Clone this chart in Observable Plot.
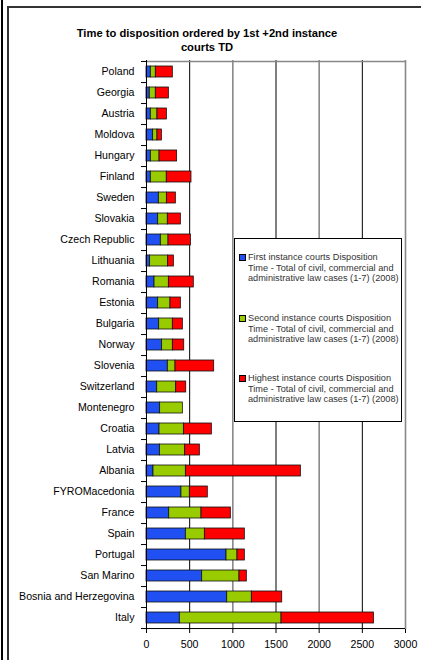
<!DOCTYPE html>
<html>
<head>
<meta charset="utf-8">
<script src="https://cdn.jsdelivr.net/npm/d3@7"></script>
<script src="https://cdn.jsdelivr.net/npm/@observablehq/plot@0.6"></script>
<style>
  html, body { margin: 0; padding: 0; background: #fff; }
  #wrap { position: relative; width: 421px; height: 660px; overflow: hidden; font-family: "Liberation Sans", Arial, sans-serif; }
  #chart { position: absolute; left: 0; top: 0; }
  #title { position: absolute; left: 40px; width: 334px; top: 26px; text-align: center; font-weight: bold; font-size: 11.2px; line-height: 14px; color: #000; }
  #outerline { position: absolute; left: 1px; top: 0; width: 2px; height: 660px; background: #000; }
  #frame { position: absolute; left: 7px; top: 6px; width: 430px; height: 670px; border-left: 2px solid #333; border-top: 2px solid #333; }
  #legend { position: absolute; left: 234px; top: 238px; width: 166px; height: 182px; background: #fff; border: 1px solid #000; overflow: hidden; font-size: 9.2px; color: #333; }
  .entry { position: absolute; left: 13px; white-space: nowrap; line-height: 10.6px; }
  .sw { position: absolute; left: -9px; top: 2px; width: 5px; height: 5px; border: 0.8px solid #000; }
</style>
</head>
<body>
<div id="wrap">
  <div id="outerline"></div>
  <div id="frame"></div>
  <div id="chart"></div>
  <div id="title">Time to disposition ordered by 1st +2nd instance<br>courts TD</div>
  <div id="legend"></div>
</div>
<script>
const countries = ["Poland","Georgia","Austria","Moldova","Hungary","Finland","Sweden","Slovakia","Czech Republic","Lithuania","Romania","Estonia","Bulgaria","Norway","Slovenia","Switzerland","Montenegro","Croatia","Latvia","Albania","FYROMacedonia","France","Spain","Portugal","San Marino","Bosnia and Herzegovina","Italy"];
const firstInstance  = [50, 38, 50, 77, 50, 50, 143, 135, 166, 42, 93, 135, 147, 181, 247, 124, 158, 151, 155, 81, 405, 263, 456, 927, 645, 935, 386];
const secondInstance = [58, 70, 77, 50, 101, 185, 93, 112, 89, 209, 166, 143, 158, 124, 89, 220, 263, 282, 293, 375, 97, 374, 220, 127, 432, 285, 1178];
const highestInstance= [197, 151, 109, 51, 204, 286, 104, 151, 259, 66, 289, 120, 116, 132, 448, 116, 0, 324, 170, 1332, 208, 340, 463, 85, 85, 352, 1070];
const seriesNames = [
  "First instance courts Disposition Time  - Total of civil, commercial and administrative law cases (1-7) (2008)",
  "Second instance courts Disposition Time  - Total of civil, commercial and administrative law cases (1-7) (2008)",
  "Highest instance courts Disposition Time  - Total of civil, commercial and administrative law cases (1-7) (2008)"
];
const legendLines = [
  ["First instance courts Disposition", "Time  - Total of civil, commercial and", "administrative law cases (1-7) (2008)"],
  ["Second instance courts Disposition", "Time  - Total of civil, commercial and", "administrative law cases (1-7) (2008)"],
  ["Highest instance courts Disposition", "Time  - Total of civil, commercial and", "administrative law cases (1-7) (2008)"]
];
const seriesColors = ["#2150f2", "#99cc00", "#ff0000"];
const xTicks = [0, 500, 1000, 1500, 2000, 2500, 3000];
const darkGrid = [500, 1500, 2500];
const greyGrid = [1000, 2000, 3000];

const values = [firstInstance, secondInstance, highestInstance];
const data = countries.flatMap((c, i) => values.map((arr, s) => ({country: c, series: seriesNames[s], value: arr[i]}))).filter(d => d.value > 0);

const W = 421, H = 660, mT = 60, mB = 31, mL = 146, mR = 16;
const step = (H - mT - mB) / countries.length;
const tickLen = 58; // in data units, ~5px

const chart = Plot.plot({
  width: W, height: H,
  marginTop: mT, marginBottom: mB, marginLeft: mL, marginRight: mR,
  style: {fontFamily: "'Liberation Sans', Arial, sans-serif", fontSize: "10.6px", color: "#000", background: "transparent"},
  x: {domain: [0, 3000], ticks: xTicks},
  y: {domain: countries, padding: 0},
  color: {domain: seriesNames, range: seriesColors},
  marks: [
    Plot.ruleX(darkGrid, {stroke: "#000", strokeWidth: 1}),
    Plot.ruleX(greyGrid, {stroke: "#888", strokeWidth: 1.6}),
    Plot.ruleY([countries[0]], {y: d => d, dy: -step / 2, x1: 0, x2: 3000, stroke: "#888", strokeWidth: 1.6}),
    Plot.barX(data, Plot.stackX({y: "country", x: "value", fill: "series", stroke: "#111", strokeWidth: 0.8, insetTop: 5, insetBottom: 5})),
    Plot.ruleX([0], {stroke: "#000", strokeWidth: 1}),
    Plot.ruleY([countries[countries.length - 1]], {y: d => d, dy: step / 2, x1: 0, x2: 3000, stroke: "#000", strokeWidth: 1}),
    Plot.ruleY(countries, {y: d => d, dy: step / 2, x1: -tickLen, x2: 0, stroke: "#000"}),
    Plot.ruleY([countries[0]], {y: d => d, dy: -step / 2, x1: -tickLen, x2: 0, stroke: "#000"}),
    Plot.axisX({ticks: xTicks, tickSize: 4, tickPadding: 7, label: null, tickFormat: d => String(d)}),
    Plot.axisY({tickSize: 0, tickPadding: 12, label: null})
  ]
});
document.getElementById("chart").appendChild(chart);

const legend = document.getElementById("legend");
const entryTops = [13, 74, 134];
legendLines.forEach((lines, i) => {
  const e = document.createElement("div");
  e.className = "entry";
  e.style.top = entryTops[i] + "px";
  const sw = document.createElement("div");
  sw.className = "sw";
  sw.style.background = seriesColors[i];
  e.appendChild(sw);
  lines.forEach(t => {
    const l = document.createElement("div");
    l.textContent = t;
    e.appendChild(l);
  });
  legend.appendChild(e);
});
</script>
</body>
</html>
